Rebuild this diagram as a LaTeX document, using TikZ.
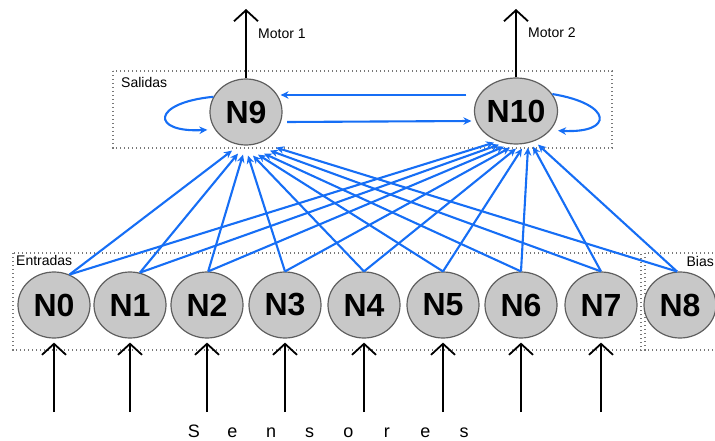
\documentclass[tikz,border=0pt]{standalone}
\usepackage{fontspec}
\setmainfont{Liberation Sans}
\usetikzlibrary{shapes.geometric,arrows.meta}
\definecolor{netblue}{RGB}{22,110,245}
\definecolor{nodegray}{RGB}{200,200,200}
\definecolor{nodeedge}{RGB}{95,95,95}
\definecolor{dotgray}{RGB}{120,120,120}
\tikzset{
  neuron/.style={ellipse, fill=nodegray, draw=nodeedge, line width=1.2pt,
    minimum width=72pt, minimum height=66pt, inner sep=0pt,
    font=\fontsize{32}{32}\selectfont\bfseries},
  groupbox/.style={draw=dotgray, line width=1.3pt, dash pattern=on 1.2pt off 2.8pt},
  smalllabel/.style={font=\fontsize{14}{14}\selectfont, inner sep=0pt},
  wire/.style={draw=netblue, line width=2.1pt, -{Stealth[length=8pt,width=7.5pt]}},
  blackarrow/.style={draw=black, line width=1.8pt, -{Straight Barb[length=11pt,width=24pt]}},
}
\begin{document}
\begin{tikzpicture}[x=1pt,y=-1pt]
\useasboundingbox (0,0) rectangle (715,441);
% boxes
\draw[groupbox] (113,71) rectangle (612,148);
\draw[groupbox] (13,253) rectangle (641,350);
\draw[groupbox] (645,253) rectangle (722,350);
\node[smalllabel, anchor=north west] (lsal) at (121,77) {Salidas};
\node[smalllabel, anchor=north west] (lent) at (16,255) {Entradas};
\node[smalllabel, anchor=north east] (lbias) at (714,256) {Bias};
% nodes
\node[neuron] (N9) at (246,112) {N9};
\node[neuron] (N10) at (516,111) {N10};
\foreach \n/\x in {N0/54,N1/130,N2/207,N3/285,N4/364,N5/443,N6/521,N7/601,N8/680}
  \node[neuron] (\n) at (\x,305) {\n};
% motor outputs
\coordinate (m1) at (246,9);
\coordinate (m2) at (516,9);
\draw[blackarrow] (N9.north) -- (m1);
\draw[blackarrow] (N10.north) -- (m2);
\node[smalllabel, anchor=west] (lm1) at (258,34) {Motor 1};
\node[smalllabel, anchor=west] (lm2) at (528,33) {Motor 2};
% sensors
\foreach \n/\x in {N0/54,N1/130,N2/207,N3/285,N4/364,N5/443,N6/521,N7/601} {
  \coordinate (s\n) at (\x,412);
  \draw[blackarrow] (s\n) -- ([yshift=-4pt]\n.south);
}
\node[inner sep=0pt, font=\fontsize{18}{18}\selectfont] (sens) at (329,431)
  {\makebox[38.6pt]{S}\makebox[38.6pt]{e}\makebox[38.6pt]{n}\makebox[38.6pt]{s}\makebox[38.6pt]{o}\makebox[38.6pt]{r}\makebox[38.6pt]{e}\makebox[38.6pt]{s}};
% recurrent connections
\draw[wire] ([xshift=-7.5pt,yshift=16pt]N10.west) -- ([xshift=-2pt,yshift=17pt]N9.east);
\draw[wire] ([xshift=4.5pt,yshift=-10pt]N9.east) -- ([xshift=-2.5pt,yshift=-10pt]N10.west);
\draw[wire] (N9.155) .. controls +(-62,6) and +(-57,3) .. ([xshift=-7pt,yshift=-1pt]N9.208);
\draw[wire] (N10.25) .. controls +(61,10) and +(56,3) .. ([xshift=7pt,yshift=-1pt]N10.332);
% feed-forward connections
\foreach \n/\a/\bx/\by/\cx/\cy in {
  N0/63/-14/-5/-22/2,
  N1/73/-8/-8/-17/0,
  N2/88/-3/-9/-12/-2,
  N3/90/2/-10/-6/-3,
  N4/90/7/-10/0/-4,
  N5/90/12/-9/6/-4,
  N6/90/18/-8/12/-3,
  N7/90/24/-5/17/-2,
  N8/95/30/-2/22/0} {
  \draw[wire] (\n.\a) -- ([xshift=\bx pt,yshift=\by pt]N9.south);
  \draw[wire] (\n.\a) -- ([xshift=\cx pt,yshift=\cy pt]N10.south);
}
\end{tikzpicture}
\end{document}
